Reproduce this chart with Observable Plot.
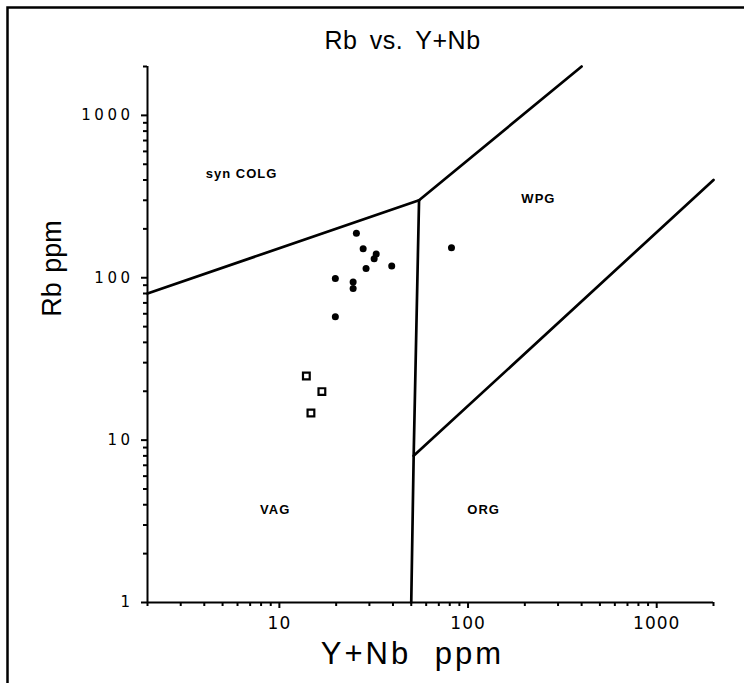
<!DOCTYPE html>
<html>
<head>
<meta charset="utf-8">
<script src="https://cdn.jsdelivr.net/npm/d3@7"></script>
<script src="https://cdn.jsdelivr.net/npm/@observablehq/plot@0.6"></script>
<style>
  html, body { margin: 0; padding: 0; background: #fff; overflow: hidden; }
  svg { overflow: visible; }
</style>
</head>
<body>
<div id="chart"></div>
<script>
// ---- data ----
const titleText = "Rb vs. Y+Nb";
const xTitle = "Y+Nb ppm";
const yTitle = "Rb ppm";

const xMajorTicks = [10, 100, 1000];
const xMajorLabels = ["10", "100", "1000"];
const yMajorTicks = [1, 10, 100, 1000];
const yMajorLabels = ["1", "10", "100", "1000"];

// granite samples (filled dots)
const dotYNb = [25.6, 27.8, 32.6, 31.8, 28.8, 39.4, 19.8, 24.6, 24.6, 19.8, 81.7];
const dotRb  = [188, 151, 140, 131, 114, 118, 99, 94, 86, 57.5, 153];

// other samples (open squares)
const sqYNb = [13.9, 16.8, 14.7];
const sqRb  = [24.8, 19.9, 14.7];

// Pearce et al. (1984) field boundaries
const lineColgVag = [[2, 80], [55, 300]];
const lineColgWpg = [[55, 300], [400, 2000]];
const lineVagOrg  = [[55, 300], [51.5, 8], [50, 1]];
const lineWpgOrg  = [[51.5, 8], [2000, 400]];

// field names
const fieldNames = ["syn COLG", "WPG", "VAG", "ORG"];
const fieldYNb = [6.3, 236, 9.5, 121];
const fieldRb  = [438, 308, 3.7, 3.7];

// ---- build tables ----
const dots = dotYNb.map((x, i) => ({x, y: dotRb[i]}));
const squares = sqYNb.map((x, i) => ({x, y: sqRb[i]}));
const fields = fieldNames.map((name, i) => ({name, x: fieldYNb[i], y: fieldRb[i]}));
const boundaries = [lineColgVag, lineColgWpg, lineVagOrg, lineWpgOrg];

const minorTicks = [];
for (const d of [1, 10, 100, 1000]) for (let k = 2; k <= 9; k++) minorTicks.push(k * d);
const xMinor = minorTicks.filter(v => v >= 2 && v <= 2000 && !xMajorTicks.includes(v));
const yMinor = minorTicks.filter(v => v >= 1 && v <= 2000 && !yMajorTicks.includes(v));

const font = "Liberation Sans, Arial, Helvetica, sans-serif";
const tickFont = "DejaVu Sans, sans-serif";

const chart = Plot.plot({
  width: 744,
  height: 683,
  marginLeft: 147,
  marginRight: 31,
  marginTop: 66,
  marginBottom: 81,
  style: {fontFamily: font, color: "#000", background: "#fff"},
  x: {type: "log", domain: [2, 2000]},
  y: {type: "log", domain: [1, 2000]},
  marks: [
    Plot.frame({insetLeft: -140, insetTop: -59, insetRight: -80, insetBottom: -120, stroke: "#000", strokeWidth: 2.5}),
    // axis lines
    Plot.ruleY([1], {stroke: "#000", strokeWidth: 2}),
    Plot.ruleX([2], {stroke: "#000", strokeWidth: 2}),
    // x axis
    Plot.axisX({ticks: xMajorTicks, tickFormat: (d) => xMajorLabels[xMajorTicks.indexOf(d)], tickSize: 6, tickPadding: 8, fontSize: 17, fontFamily: tickFont, strokeWidth: 2, label: null}),
    Plot.axisX({ticks: xMinor, tickFormat: () => "", tickSize: 4, strokeWidth: 2, label: null}),
    // y axis
    Plot.axisY({ticks: yMajorTicks, tickFormat: (d) => yMajorLabels[yMajorTicks.indexOf(d)], tickSize: 6, tickPadding: 8, fontSize: 15, fontFamily: tickFont, strokeWidth: 2, label: null}),
    Plot.axisY({ticks: yMinor, tickFormat: () => "", tickSize: 4, strokeWidth: 2, label: null}),
    // boundaries
    ...boundaries.map(b => Plot.line(b, {x: d => d[0], y: d => d[1], stroke: "#000", strokeWidth: 2.7, strokeLinejoin: "round"})),
    // samples
    Plot.dot(dots, {x: "x", y: "y", r: 3.5, fill: "#000", stroke: "none"}),
    Plot.dot(squares, {x: "x", y: "y", symbol: "square", r: 3.8, fill: "#fff", stroke: "#000", strokeWidth: 2.2}),
    // field names
    Plot.text(fields, {x: "x", y: "y", text: "name", fontSize: 13, fontWeight: "bold", fill: "#000"}),
    // titles
    Plot.text([titleText], {frameAnchor: "top", lineAnchor: "middle", textAnchor: "middle", dx: -28, dy: -26, fontSize: 25, fill: "#000"}),
    Plot.text([xTitle], {frameAnchor: "bottom", lineAnchor: "middle", textAnchor: "middle", dx: -18, dy: 52, fontSize: 31, fill: "#000"}),
    Plot.text([yTitle], {frameAnchor: "left", lineAnchor: "middle", textAnchor: "middle", dx: -95, dy: -66, rotate: -90, fontSize: 27, fill: "#000"})
  ]
});

// letter / word spacing to mimic the wide lettering of the original
function setSpacing(el, ls, ws) {
  el.style.letterSpacing = ls;
  el.style.wordSpacing = ws;
}
d3.select(chart).selectAll("text").each(function () {
  const t = this.textContent;
  const g = this.closest("g");
  const label = g ? (g.getAttribute("aria-label") || "") : "";
  if (t === titleText) setSpacing(this, "0.5px", "5px");
  else if (t === xTitle) setSpacing(this, "3px", "12px");
  else if (t === yTitle) setSpacing(this, "0px", "2px");
  else if (fieldNames.includes(t)) setSpacing(this, "1px", "0px");
  else if (label.startsWith("y-axis")) setSpacing(this, "3.5px", "0px");
  else if (label.startsWith("x-axis")) setSpacing(this, "1px", "0px");
});
document.getElementById("chart").appendChild(chart);
</script>
</body>
</html>
